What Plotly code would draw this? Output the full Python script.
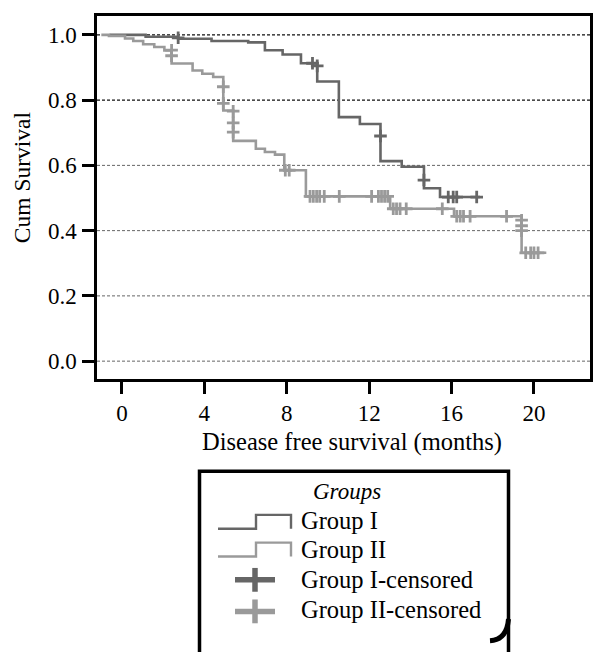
import plotly.graph_objects as go

# ---------------- data ----------------
g1_time = [-0.6, 1.15, 2.73, 4.35, 6.13, 6.94, 7.80, 8.69, 9.48, 10.53, 11.55, 12.55, 13.58, 14.66, 15.44, 17.38]
g1_surv = [1.000, 0.994, 0.988, 0.981, 0.977, 0.953, 0.940, 0.913, 0.857, 0.748, 0.727, 0.613, 0.596, 0.530, 0.503, 0.503]
g1_cens_time = [2.73, 9.25, 9.48, 12.55, 14.66, 15.84, 16.08, 16.25, 17.22]
g1_cens_surv = [0.991, 0.913, 0.905, 0.690, 0.555, 0.503, 0.503, 0.503, 0.503]

g2_time = [-1.0, -0.63, 0.15, 0.55, 1.03, 1.57, 2.06, 2.41, 3.43, 3.90, 4.43, 4.92, 5.40, 6.50, 6.94, 7.43, 7.88, 8.93, 13.02, 16.12, 19.40, 20.60]
g2_surv = [1.000, 0.997, 0.989, 0.981, 0.971, 0.963, 0.952, 0.912, 0.891, 0.881, 0.871, 0.768, 0.675, 0.651, 0.641, 0.633, 0.585, 0.505, 0.467, 0.444, 0.332, 0.332]
g2_cens_time = [2.41, 2.41, 4.92, 4.92, 5.40, 5.40, 5.40, 7.93, 8.12,
                9.13, 9.29, 9.45, 9.60, 9.82, 10.55, 12.12, 12.45, 12.60, 12.75, 12.90,
                13.17, 13.33, 13.50, 13.80, 15.55,
                16.25, 16.42, 16.58, 16.90, 18.67,
                19.40, 19.40, 19.40,
                19.60, 19.84, 20.00, 20.20]
g2_cens_surv = [0.953, 0.936, 0.841, 0.790, 0.766, 0.730, 0.702, 0.585, 0.585,
                0.505, 0.505, 0.505, 0.505, 0.505, 0.505, 0.505, 0.505, 0.505, 0.505, 0.505,
                0.467, 0.467, 0.467, 0.467, 0.467,
                0.444, 0.444, 0.444, 0.444, 0.444,
                0.432, 0.415, 0.400,
                0.332, 0.332, 0.332, 0.332]

x_ticks = [0, 4, 8, 12, 16, 20]
y_ticks = [0.0, 0.2, 0.4, 0.6, 0.8, 1.0]
y_tick_text = ["0.0", "0.2", "0.4", "0.6", "0.8", "1.0"]
legend_title = "Groups"
legend_labels = ["Group I", "Group II", "Group I-censored", "Group II-censored"]
x_title = "Disease free survival (months)"
y_title = "Cum Survival"

# ---------------- styling / layout ----------------
FONT = "Liberation Serif"
FS = 24.5
FS_YTITLE = 23.5
FS_LEGTITLE = 23
FS_TICK = 23
C1 = "#666666"
C2 = "#9a9a9a"
OFF = 8                      # page body margin of the html page
PAGE_W, PAGE_H = 608, 652
W, H = PAGE_W - OFF, PAGE_H - OFF
# plot-area edges in page pixels
L, R, T, B = 97, 590, 13, 379


def px(x):
    return (x - L) / (R - L)


def py(y):
    return (B - y) / (B - T)


fig = go.Figure()

fig.add_trace(go.Scatter(x=g1_time, y=g1_surv, mode="lines", line=dict(color=C1, width=2.6, shape="hv"),
                         showlegend=False, hoverinfo="skip"))
fig.add_trace(go.Scatter(x=g2_time, y=g2_surv, mode="lines", line=dict(color=C2, width=2.6, shape="hv"),
                         showlegend=False, hoverinfo="skip"))
fig.add_trace(go.Scatter(x=g1_cens_time, y=g1_cens_surv, mode="markers",
                         marker=dict(symbol="cross-thin", size=9, line=dict(color=C1, width=2.8)),
                         showlegend=False, hoverinfo="skip"))
fig.add_trace(go.Scatter(x=g2_cens_time, y=g2_cens_surv, mode="markers",
                         marker=dict(symbol="cross-thin", size=9, line=dict(color=C2, width=2.8)),
                         showlegend=False, hoverinfo="skip"))

shapes = []
for v in y_ticks:
    dark = v >= 0.8
    shapes.append(dict(type="line", xref="paper", yref="y", x0=0, x1=1, y0=v, y1=v, layer="below",
                       line=dict(color="#111111" if dark else "#666666", width=1.2 if dark else 1, dash="3px,2px")))

# legend box
shapes.append(dict(type="rect", xref="paper", yref="paper", x0=px(199.5), x1=px(508.5), y0=py(472), y1=py(720),
                   line=dict(color="black", width=3.5), fillcolor="rgba(0,0,0,0)"))
shapes.append(dict(type="path", xref="paper", yref="paper",
                   path=f"M {px(490)} {py(643)} Q {px(507)} {py(642)} {px(508.5)} {py(621)}",
                   line=dict(color="black", width=5)))
for yb, yt, col in [(530, 516, C1), (558, 544, C2)]:
    shapes.append(dict(type="path", xref="paper", yref="paper",
                       path=(f"M {px(218)} {py(yb)} L {px(256)} {py(yb)} L {px(256)} {py(yt)} "
                             f"L {px(291)} {py(yt)} L {px(291)} {py(yb)}"),
                       line=dict(color=col, width=2.4)))
for yc, col in [(581.5, C1), (613.3, C2)]:
    shapes.append(dict(type="line", xref="paper", yref="paper", x0=px(235), x1=px(275), y0=py(yc), y1=py(yc),
                       line=dict(color=col, width=5.5)))
    shapes.append(dict(type="line", xref="paper", yref="paper", x0=px(255), x1=px(255), y0=py(yc - 12),
                       y1=py(yc + 12), line=dict(color=col, width=5.5)))

annotations = [
    dict(text=y_title, xref="paper", yref="paper", x=px(22), y=py(175.5), textangle=-90, showarrow=False,
         xanchor="center", yanchor="middle", font=dict(family=FONT, size=FS_YTITLE, color="black")),
    dict(text=x_title, xref="paper", yref="paper", x=px(352), y=py(443), showarrow=False,
         xanchor="center", yanchor="middle", font=dict(family=FONT, size=FS, color="black")),
    dict(text=f"<i>{legend_title}</i>", xref="paper", yref="paper", x=px(346.7), y=py(492), showarrow=False,
         xanchor="center", yanchor="middle", font=dict(family=FONT, size=FS_LEGTITLE, color="black")),
]
for lab, yc in zip(legend_labels, [522, 551, 581, 611]):
    annotations.append(dict(text=lab, xref="paper", yref="paper", x=px(299), y=py(yc), showarrow=False,
                            xanchor="left", yanchor="middle", font=dict(family=FONT, size=FS, color="black")))

axis_common = dict(showline=True, linewidth=2.5, linecolor="black", mirror=True, ticks="outside",
                   ticklen=12, tickwidth=2.5, tickcolor="black", showgrid=False, zeroline=False,
                   tickfont=dict(family=FONT, size=FS_TICK, color="black"))

fig.update_layout(
    width=W, height=H,
    margin=dict(l=L - OFF, r=PAGE_W - R, t=T - OFF, b=PAGE_H - B),
    paper_bgcolor="white", plot_bgcolor="white",
    showlegend=False,
    xaxis=dict(range=[-1.21, 22.72], tickvals=x_ticks, ticklabelstandoff=0, **axis_common),
    yaxis=dict(range=[-0.0547, 1.0578], tickvals=y_ticks, ticktext=y_tick_text, ticklabelstandoff=1,
               **axis_common),
    shapes=shapes,
    annotations=annotations,
)

fig.write_html("out.html")
